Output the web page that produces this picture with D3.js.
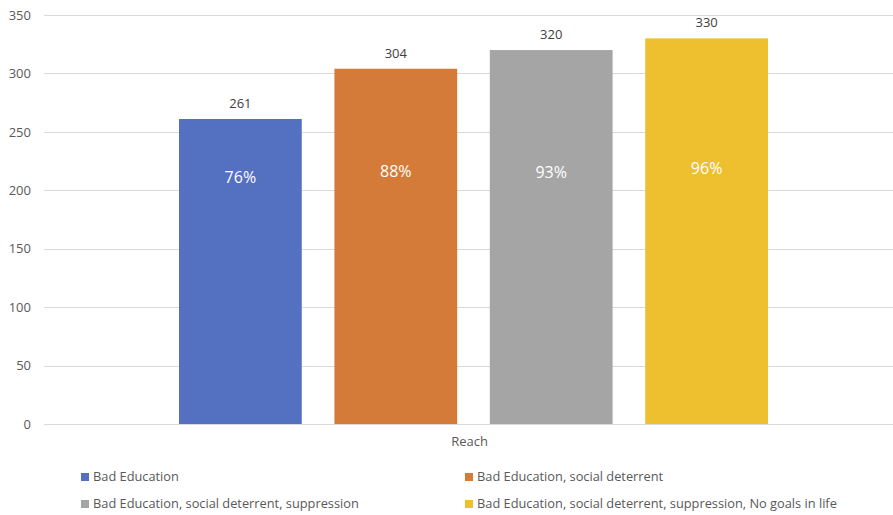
<!DOCTYPE html>
<html>
<head>
<meta charset="utf-8">
<script src="https://cdn.jsdelivr.net/npm/d3@7"></script>
<style>
  html, body { margin: 0; padding: 0; background: #fff; }
  svg { display: block; font-family: "Open Sans", "Noto Sans", sans-serif; }
</style>
</head>
<body>
<svg id="chart"></svg>
<script>
// chart values
const category = "Reach";
const series = [
    "Bad Education",
    "Bad Education, social deterrent",
    "Bad Education, social deterrent, suppression",
    "Bad Education, social deterrent, suppression, No goals in life"
];
const values = [261, 304, 320, 330];
const percents = ["76%", "88%", "93%", "96%"];
// where the percent labels sit, in axis units
const percentAt = [211, 216, 215, 219];
const colors = ["#5470c1", "#d57b39", "#a5a5a5", "#eebf2f"];
const yTicks = [0, 50, 100, 150, 200, 250, 300, 350];

const buildChart = () => {
    const width = 893;
    const height = 515;
    const svg = d3.select('#chart')
        .attr('width', width)
        .attr('height', height);

    const y = d3.scaleLinear().domain([0, 350]).range([424, 15]);

    // outer category band, then one slot per series inside it
    const x0 = d3.scaleBand().domain([category]).range([44, 903]);
    const x1 = d3.scaleBand()
        .domain(series)
        .range([x0(category) + 135, x0(category) + x0.bandwidth() - 135])
        .paddingInner(0.21)
        .paddingOuter(0);

    // gridlines
    svg.append("g")
        .selectAll("line")
        .data(yTicks)
        .join("line")
        .attr("x1", 44)
        .attr("x2", width)
        .attr("y1", d => Math.round(y(d)) + 0.5)
        .attr("y2", d => Math.round(y(d)) + 0.5)
        .attr("stroke", "#d9d9d9")
        .attr("stroke-width", 1);

    // y axis labels
    const yAxis = svg.append("g")
        .attr("transform", "translate(31,0)")
        .call(d3.axisLeft(y).tickValues(yTicks).tickSize(0).tickPadding(0));
    yAxis.select(".domain").remove();
    yAxis.selectAll("text")
        .attr("fill", "#595959")
        .attr("font-size", 13)
        .attr("font-family", "'Open Sans', sans-serif");

    // bars
    svg.append("g")
        .selectAll("rect")
        .data(values)
        .join("rect")
        .attr("x", (d, i) => x1(series[i]))
        .attr("y", d => y(d))
        .attr("width", x1.bandwidth())
        .attr("height", d => y(0) - y(d))
        .attr("fill", (d, i) => colors[i]);

    // value labels above bars
    svg.append("g")
        .selectAll("text")
        .data(values)
        .join("text")
        .attr("x", (d, i) => x1(series[i]) + x1.bandwidth() / 2)
        .attr("y", d => y(d) - 11)
        .attr("text-anchor", "middle")
        .attr("font-size", 13)
        .attr("fill", "#404040")
        .text(d => d);

    // percent labels inside bars
    svg.append("g")
        .selectAll("text")
        .data(percents)
        .join("text")
        .attr("x", (d, i) => x1(series[i]) + x1.bandwidth() / 2)
        .attr("y", (d, i) => y(percentAt[i]))
        .attr("dy", "0.35em")
        .attr("text-anchor", "middle")
        .attr("font-size", 16)
        .attr("fill", "#ffffff")
        .text(d => d);

    // category label
    svg.append("text")
        .attr("x", x0(category) + x0.bandwidth() / 2 - 4)
        .attr("y", 446)
        .attr("text-anchor", "middle")
        .attr("font-size", 13)
        .attr("fill", "#595959")
        .text(category);

    // legend, two columns
    const legend = svg.append("g")
        .selectAll("g")
        .data(series)
        .join("g")
        .attr("transform", (d, i) => `translate(${i % 2 ? 465 : 81},${i < 2 ? 477 : 504})`);

    legend.append("rect")
        .attr("y", -4)
        .attr("width", 8)
        .attr("height", 8)
        .attr("fill", (d, i) => colors[i]);

    legend.append("text")
        .attr("x", 12)
        .attr("dy", "0.35em")
        .attr("font-size", 12.8)
        .attr("fill", "#595959")
        .text(d => d);

    return svg.node();
};

buildChart();
</script>
</body>
</html>
